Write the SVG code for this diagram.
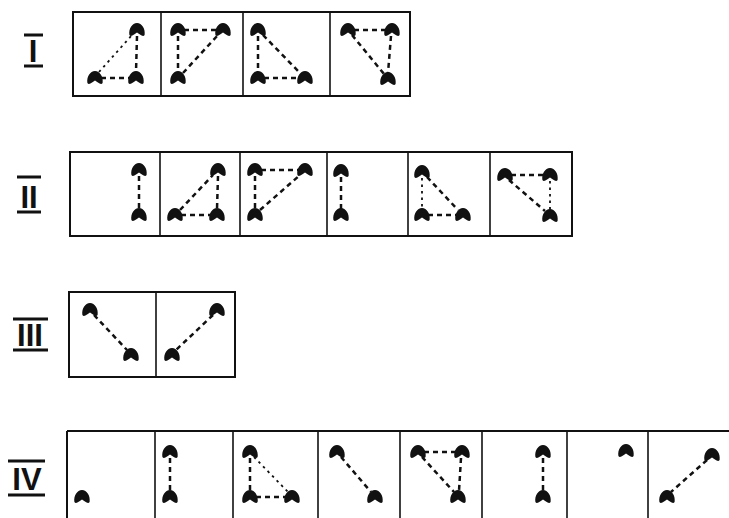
<svg xmlns="http://www.w3.org/2000/svg" xmlns:xlink="http://www.w3.org/1999/xlink" width="729" height="518" viewBox="0 0 729 518">
<style>
.frame{fill:none;stroke:#111;stroke-width:2}
.div{stroke:#111;stroke-width:1.6}
.dash{stroke:#111;stroke-width:2.5;stroke-dasharray:5 4;fill:none}
.dot{stroke:#111;stroke-width:1.8;stroke-dasharray:2.5 4;fill:none}
.bar{stroke:#111;stroke-width:3}
.lbl{font-family:"Liberation Sans",Arial,sans-serif;font-weight:bold;font-size:31px;fill:#111;text-anchor:middle}
</style>
<defs>
<path id="b" d="M -7.6,5 C -8.6,-1 -4.8,-7 0,-7 C 4.8,-7 8.6,-1 7.6,5 Q 6.6,6.8 4.6,5.6 Q 2,3.6 0,2.4 Q -2,3.6 -4.6,5.6 Q -6.6,6.8 -7.6,5 Z" fill="#111"/>
</defs>
<rect width="729" height="518" fill="#fff"/>

<g id="labels">
<g id="label-I"><line class="bar" x1="24" y1="35" x2="43" y2="35"/><line class="bar" x1="24" y1="66" x2="43" y2="66"/><text class="lbl" x="33" y="62">I</text></g>
<g id="label-II"><line class="bar" x1="17" y1="177" x2="41" y2="177"/><line class="bar" x1="17" y1="212" x2="41" y2="212"/><text class="lbl" x="29" y="208">II</text></g>
<g id="label-III"><line class="bar" x1="13" y1="319" x2="48" y2="319"/><line class="bar" x1="13" y1="350" x2="48" y2="350"/><text class="lbl" x="30" y="346">III</text></g>
<g id="label-IV"><line class="bar" x1="8" y1="461" x2="45" y2="461"/><line class="bar" x1="8" y1="495" x2="45" y2="495"/><text class="lbl" x="27" y="490">IV</text></g>
</g>

<g id="frames">
<g id="frame-I"><rect class="frame" x="73" y="12" width="337" height="84"/><line class="div" x1="161" y1="12" x2="161" y2="96"/><line class="div" x1="243" y1="12" x2="243" y2="96"/><line class="div" x1="330" y1="12" x2="330" y2="96"/></g>
<g id="frame-II"><rect class="frame" x="70" y="152" width="502" height="84"/><line class="div" x1="160" y1="152" x2="160" y2="236"/><line class="div" x1="240" y1="152" x2="240" y2="236"/><line class="div" x1="327" y1="152" x2="327" y2="236"/><line class="div" x1="408" y1="152" x2="408" y2="236"/><line class="div" x1="490" y1="152" x2="490" y2="236"/></g>
<g id="frame-III"><rect class="frame" x="69" y="292" width="166" height="85"/><line class="div" x1="156" y1="292" x2="156" y2="377"/></g>
<g id="frame-IV"><line class="frame" x1="67" y1="431" x2="729" y2="431"/><line class="frame" x1="67" y1="431" x2="67" y2="518"/><line class="div" x1="155" y1="431" x2="155" y2="518"/><line class="div" x1="233" y1="431" x2="233" y2="518"/><line class="div" x1="318" y1="431" x2="318" y2="518"/><line class="div" x1="400" y1="431" x2="400" y2="518"/><line class="div" x1="482" y1="431" x2="482" y2="518"/><line class="div" x1="567" y1="431" x2="567" y2="518"/><line class="div" x1="648" y1="431" x2="648" y2="518"/></g>
</g>

<g id="connectors">
<line class="dash" x1="137" y1="36" x2="136" y2="72"/>
<line class="dash" x1="101" y1="78" x2="130" y2="78"/>
<line class="dot" x1="99" y1="72" x2="132" y2="35"/>
<line class="dash" x1="184" y1="30" x2="217" y2="30"/>
<line class="dash" x1="178" y1="36" x2="178" y2="72"/>
<line class="dash" x1="183" y1="73" x2="218" y2="35"/>
<line class="dash" x1="258" y1="36" x2="258" y2="72"/>
<line class="dash" x1="263" y1="35" x2="300" y2="73"/>
<line class="dash" x1="264" y1="78" x2="299" y2="78"/>
<line class="dash" x1="354" y1="30" x2="386" y2="30"/>
<line class="dash" x1="391" y1="36" x2="388" y2="73"/>
<line class="dash" x1="352" y1="35" x2="384" y2="74"/>
<line class="dash" x1="139" y1="176" x2="139" y2="209"/>
<line class="dash" x1="218" y1="176" x2="217" y2="209"/>
<line class="dash" x1="181" y1="215" x2="211" y2="215"/>
<line class="dash" x1="180" y1="210" x2="213" y2="175"/>
<line class="dash" x1="261" y1="170" x2="299" y2="170"/>
<line class="dash" x1="255" y1="176" x2="255" y2="209"/>
<line class="dash" x1="260" y1="210" x2="300" y2="175"/>
<line class="dash" x1="341" y1="177" x2="341" y2="209"/>
<line class="dot" x1="422" y1="178" x2="422" y2="209"/>
<line class="dash" x1="427" y1="177" x2="458" y2="210"/>
<line class="dash" x1="428" y1="215" x2="457" y2="215"/>
<line class="dash" x1="511" y1="175" x2="544" y2="175"/>
<line class="dot" x1="550" y1="181" x2="550" y2="210"/>
<line class="dash" x1="509" y1="180" x2="545" y2="211"/>
<line class="dash" x1="94" y1="315" x2="127" y2="350"/>
<line class="dash" x1="213" y1="315" x2="176" y2="350"/>
<line class="dash" x1="170" y1="458" x2="170" y2="491"/>
<line class="dash" x1="250" y1="458" x2="250" y2="491"/>
<line class="dot" x1="254" y1="457" x2="288" y2="492"/>
<line class="dash" x1="256" y1="497" x2="286" y2="497"/>
<line class="dash" x1="341" y1="457" x2="371" y2="492"/>
<line class="dash" x1="424" y1="452" x2="456" y2="452"/>
<line class="dash" x1="461" y1="458" x2="459" y2="491"/>
<line class="dash" x1="422" y1="457" x2="454" y2="492"/>
<line class="dash" x1="543" y1="458" x2="543" y2="491"/>
<line class="dash" x1="707" y1="460" x2="671" y2="492"/>
</g>

<g id="nodes">
<g id="row-I">
<use id="I1a" href="#b" xlink:href="#b" x="137" y="30"/><use id="I1b" href="#b" xlink:href="#b" x="95" y="78"/><use id="I1c" href="#b" xlink:href="#b" x="136" y="78"/>
<use id="I2a" href="#b" xlink:href="#b" x="178" y="30"/><use id="I2b" href="#b" xlink:href="#b" x="223" y="30"/><use id="I2c" href="#b" xlink:href="#b" x="178" y="78"/>
<use id="I3a" href="#b" xlink:href="#b" x="258" y="30"/><use id="I3b" href="#b" xlink:href="#b" x="258" y="78"/><use id="I3c" href="#b" xlink:href="#b" x="305" y="78"/>
<use id="I4a" href="#b" xlink:href="#b" x="348" y="30"/><use id="I4b" href="#b" xlink:href="#b" x="392" y="30"/><use id="I4c" href="#b" xlink:href="#b" x="388" y="79"/>
</g>
<g id="row-II">
<use id="II1a" href="#b" xlink:href="#b" x="139" y="170"/><use id="II1b" href="#b" xlink:href="#b" x="139" y="215"/>
<use id="II2a" href="#b" xlink:href="#b" x="218" y="170"/><use id="II2b" href="#b" xlink:href="#b" x="175" y="215"/><use id="II2c" href="#b" xlink:href="#b" x="217" y="215"/>
<use id="II3a" href="#b" xlink:href="#b" x="255" y="170"/><use id="II3b" href="#b" xlink:href="#b" x="305" y="170"/><use id="II3c" href="#b" xlink:href="#b" x="255" y="215"/>
<use id="II4a" href="#b" xlink:href="#b" x="341" y="171"/><use id="II4b" href="#b" xlink:href="#b" x="341" y="215"/>
<use id="II5a" href="#b" xlink:href="#b" x="422" y="172"/><use id="II5b" href="#b" xlink:href="#b" x="422" y="215"/><use id="II5c" href="#b" xlink:href="#b" x="463" y="215"/>
<use id="II6a" href="#b" xlink:href="#b" x="505" y="175"/><use id="II6b" href="#b" xlink:href="#b" x="550" y="175"/><use id="II6c" href="#b" xlink:href="#b" x="550" y="216"/>
</g>
<g id="row-III">
<use id="III1a" href="#b" xlink:href="#b" x="90" y="310"/><use id="III1b" href="#b" xlink:href="#b" x="131" y="355"/>
<use id="III2a" href="#b" xlink:href="#b" x="217" y="310"/><use id="III2b" href="#b" xlink:href="#b" x="172" y="355"/>
</g>
<g id="row-IV">
<use id="IV1a" href="#b" xlink:href="#b" x="82" y="497"/>
<use id="IV2a" href="#b" xlink:href="#b" x="170" y="452"/><use id="IV2b" href="#b" xlink:href="#b" x="170" y="497"/>
<use id="IV3a" href="#b" xlink:href="#b" x="250" y="452"/><use id="IV3b" href="#b" xlink:href="#b" x="250" y="497"/><use id="IV3c" href="#b" xlink:href="#b" x="292" y="497"/>
<use id="IV4a" href="#b" xlink:href="#b" x="337" y="452"/><use id="IV4b" href="#b" xlink:href="#b" x="375" y="497"/>
<use id="IV5a" href="#b" xlink:href="#b" x="418" y="452"/><use id="IV5b" href="#b" xlink:href="#b" x="462" y="452"/><use id="IV5c" href="#b" xlink:href="#b" x="458" y="497"/>
<use id="IV6a" href="#b" xlink:href="#b" x="543" y="452"/><use id="IV6b" href="#b" xlink:href="#b" x="543" y="497"/>
<use id="IV7a" href="#b" xlink:href="#b" x="626" y="451"/>
<use id="IV8a" href="#b" xlink:href="#b" x="712" y="455"/><use id="IV8b" href="#b" xlink:href="#b" x="667" y="497"/>
</g>
</g>
</svg>
